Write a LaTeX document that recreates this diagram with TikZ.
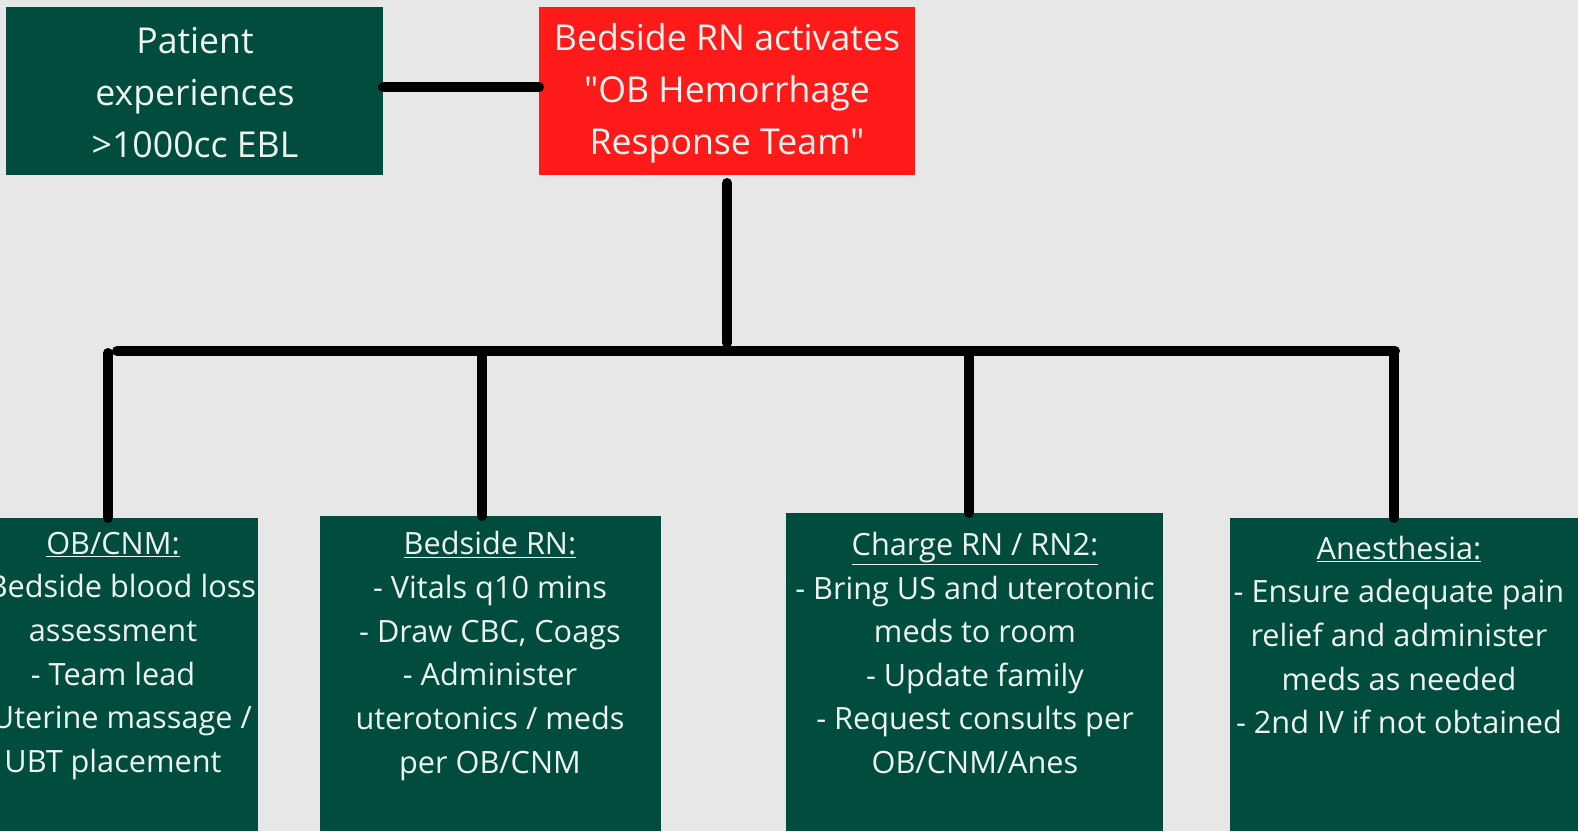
\documentclass[tikz,border=0pt]{standalone}
\usepackage{fontspec}
\setmainfont{Open Sans}[Ligatures=TeXOff]
\definecolor{bg}{HTML}{E7E7E7}
\definecolor{dkgreen}{HTML}{004D3F}
\definecolor{alarm}{HTML}{FF1A1A}
\definecolor{txt}{HTML}{EEF4EE}
\begin{document}
\begin{tikzpicture}[x=1bp,y=-1bp,
  box/.style={fill=dkgreen,draw=none,anchor=north west,inner sep=0pt,outer sep=0pt},
  redbox/.style={fill=alarm,draw=none,anchor=north west,inner sep=0pt,outer sep=0pt},
  toptext/.style={text=txt,align=center,font=\fontsize{35.8}{52.2}\selectfont},
  bottext/.style={text=txt,align=center,font=\fontsize{30.8}{43.8}\selectfont},
  conn/.style={line width=10bp,line cap=round,black}]
\useasboundingbox[fill=bg] (0,0) rectangle (1578,831);
\clip (0,0) rectangle (1578,831);
% top boxes
\node[box,minimum width=377bp,minimum height=168bp] (patient) at (6,7) {};
\node[redbox,minimum width=376bp,minimum height=168bp] (activate) at (539,7) {};
\node[toptext] (ptxt) at (195,93) {Patient\\experiences\\>1000cc EBL};
\node[toptext] (atxt) at (727,93) {Bedside RN activates\\"OB Hemorrhage\\Response Team"};
% bottom boxes
\node[box,minimum width=258bp,minimum height=313bp] (ob) at (0,518) {};
\node[box,minimum width=341bp,minimum height=315bp] (rn) at (320,516) {};
\node[box,minimum width=377bp,minimum height=318bp] (charge) at (786,513) {};
\node[box,minimum width=348bp,minimum height=313bp] (anes) at (1230,518) {};
\node[bottext] (obtxt) at (113,656) {\underline{OB/CNM:}\\- Bedside blood loss\\assessment\\- Team lead\\- Uterine massage /\\UBT placement};
\node[bottext] (rntxt) at (490,656) {\underline{Bedside RN:}\\- Vitals q10 mins\\- Draw CBC, Coags\\- Administer\\uterotonics / meds\\per OB/CNM};
\node[bottext] (chtxt) at (975,653) {\underline{Charge RN / RN2:}\\- Bring US and uterotonic\\meds to room\\- Update family\\- Request consults per\\OB/CNM/Anes};
\node[bottext] (antxt) at (1399,635) {\underline{Anesthesia:}\\- Ensure adequate pain\\relief and administer\\meds as needed\\- 2nd IV if not obtained};
% connectors
\coordinate (hub) at (727,343);
\coordinate (b1) at (108,353);
\coordinate (b2) at (482,351);
\coordinate (b3) at (969,353);
\coordinate (b4) at (1394,353);
\draw[conn] (patient.east |- 0,87) -- (activate.west |- 0,87);
\draw[conn] (727,183) -- (hub);
\draw[conn] (117,351) -- (1395,351);
\draw[conn] (b1) -- (b1 |- ob.north);
\draw[conn] (b2) -- (b2 |- rn.north);
\draw[conn] (b3) -- (b3 |- charge.north);
\draw[conn] (b4) -- (b4 |- anes.north);
\end{tikzpicture}
\end{document}
